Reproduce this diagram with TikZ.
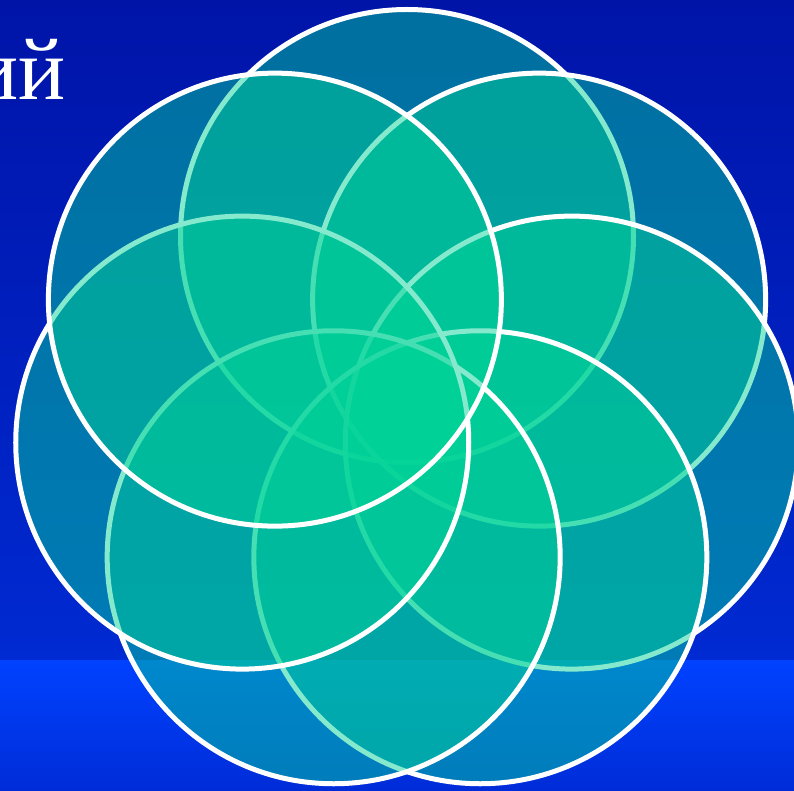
\documentclass[tikz,border=0pt]{standalone}
\usepackage{fontspec}
\setmainfont{Liberation Serif}
\usetikzlibrary{calc}
\definecolor{bgtop}{HTML}{0014A8}
\definecolor{bgmid}{HTML}{002AD2}
\definecolor{bandtop}{HTML}{0042FF}
\definecolor{bandbot}{HTML}{002CD8}
\definecolor{petalfill}{HTML}{00D497}
\tikzset{
  petal/.style={fill=petalfill, fill opacity=0.48, draw=white, draw opacity=1, line width=5pt},
  titletext/.style={text=white, inner sep=0pt, font=\fontsize{88}{92}\selectfont}
}
\begin{document}
\begin{tikzpicture}[x=1pt,y=1pt]
  \useasboundingbox (0,0) rectangle (794,790);
  \clip (0,0) rectangle (794,790);
  % background
  \shade[top color=bgtop, bottom color=bgmid] (0,130) rectangle (794,790);
  \shade[top color=bandtop, bottom color=bandbot] (0,0) rectangle (794,130);
  % title fragment
  \node[titletext, anchor=base east] (title) at (66,690) {ий};
  % seven circles, clockwise from top
  \coordinate (o) at (407,385);
  \foreach \k in {0,...,6} {
    \path[petal] ($(o)+({90-\k*360/7}:169)$) circle[radius=226.5];
  }
\end{tikzpicture}
\end{document}
